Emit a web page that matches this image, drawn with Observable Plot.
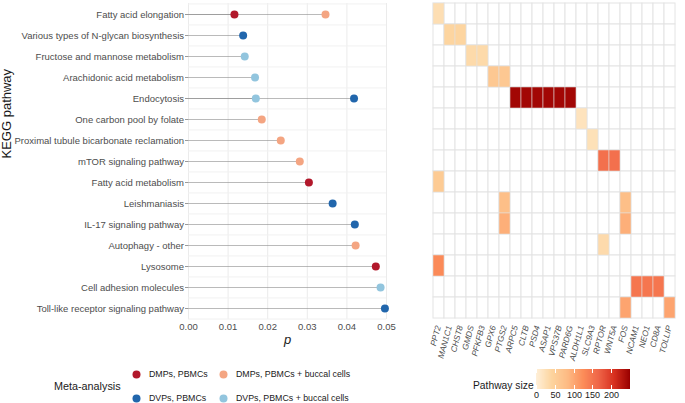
<!DOCTYPE html>
<html><head><meta charset="utf-8">
<script src="https://cdn.jsdelivr.net/npm/d3@7"></script>
<script src="https://cdn.jsdelivr.net/npm/@observablehq/plot@0.6"></script>
<style>
body{margin:0;background:#fff;}
#root{position:relative;width:685px;height:403px;overflow:hidden;font-family:"Liberation Sans",Arial,sans-serif;background:#fff;}
#root svg{overflow:visible;}
.abs{position:absolute;top:0;left:0;}
.ttl{position:absolute;white-space:nowrap;color:#1a1a1a;line-height:1;}
#ramp .tick line{stroke:#fff;stroke-dasharray:4 12 4;stroke-width:1;}
#left g[aria-label="y-axis tick"] path{stroke:#9a9a9a;}
</style></head><body><div id="root"></div>
<script>
const FONT = '"Liberation Sans", Arial, sans-serif';

// ---- data ----
const pathways = ["Fatty acid elongation","Various types of N-glycan biosynthesis","Fructose and mannose metabolism","Arachidonic acid metabolism","Endocytosis","One carbon pool by folate","Proximal tubule bicarbonate reclamation","mTOR signaling pathway","Fatty acid metabolism","Leishmaniasis","IL-17 signaling pathway","Autophagy - other","Lysosome","Cell adhesion molecules","Toll-like receptor signaling pathway"];
const groups = ["DMPs, PBMCs","DMPs, PBMCs + buccal cells","DVPs, PBMCs","DVPs, PBMCs + buccal cells"];
const groupColors = ["#b2182b","#f4a582","#2166ac","#92c5de"];

const pointPathway = ["Fatty acid elongation","Fatty acid elongation","Various types of N-glycan biosynthesis","Fructose and mannose metabolism","Arachidonic acid metabolism","Endocytosis","Endocytosis","One carbon pool by folate","Proximal tubule bicarbonate reclamation","mTOR signaling pathway","Fatty acid metabolism","Leishmaniasis","IL-17 signaling pathway","Autophagy - other","Lysosome","Cell adhesion molecules","Toll-like receptor signaling pathway"];
const pointGroup = ["DMPs, PBMCs","DMPs, PBMCs + buccal cells","DVPs, PBMCs","DVPs, PBMCs + buccal cells","DVPs, PBMCs + buccal cells","DVPs, PBMCs + buccal cells","DVPs, PBMCs","DMPs, PBMCs + buccal cells","DMPs, PBMCs + buccal cells","DMPs, PBMCs + buccal cells","DMPs, PBMCs","DVPs, PBMCs","DVPs, PBMCs","DMPs, PBMCs + buccal cells","DMPs, PBMCs","DVPs, PBMCs + buccal cells","DVPs, PBMCs"];
const pointP = [0.0116,0.0346,0.0138,0.0142,0.0168,0.0170,0.0418,0.0185,0.0233,0.0281,0.0304,0.0364,0.0420,0.0422,0.0473,0.0485,0.0496];
const xTicks = [0,0.01,0.02,0.03,0.04,0.05];

const genes = ["PPT2","MAN1C1","CHST8","GMDS","PFKFB3","GPX6","PTGS2","ARPC5","CLTB","PSD4","ASAP1","VPS37B","PARD6G","ALDH1L1","SLC9A3","RPTOR","WNT5A","FOS","NCAM1","NEO1","CD8A","TOLLIP"];
const pathwaySize = [27,40,33,61,244,20,23,155,57,77,94,32,128,149,104];
const pathwayGenes = [["PPT2"],["MAN1C1","CHST8"],["GMDS","PFKFB3"],["GPX6","PTGS2"],["ARPC5","CLTB","PSD4","ASAP1","VPS37B","PARD6G"],["ALDH1L1"],["SLC9A3"],["RPTOR","WNT5A"],["PPT2"],["PTGS2","FOS"],["PTGS2","FOS"],["RPTOR"],["PPT2"],["NCAM1","NEO1","CD8A"],["FOS","TOLLIP"]];
const sizeTicks = [0,50,100,150,200];
const orrd7 = ["#fef0d9","#fdd49e","#fdbb84","#fc8d59","#ef6548","#d7301f","#990000"];

// ---- build tables ----
const points = pointP.map((p,i)=>({pathway: pointPathway[i], group: pointGroup[i], p}));
const allCells = pathways.flatMap(pw => genes.map(g => ({pathway: pw, gene: g})));
const memberCells = pathways.flatMap((pw,i) => pathwayGenes[i].map(g => ({pathway: pw, gene: g, size: pathwaySize[i]})));
const colorScale = {type: "linear", domain: [0, 250], interpolate: d3.piecewise(d3.interpolateRgb, orrd7)};

const root = document.getElementById("root");
function place(node, id, left, top){
  const d = document.createElement("div");
  d.className = "abs"; d.id = id; d.style.left = left + "px"; d.style.top = top + "px";
  d.appendChild(node); root.appendChild(d); return d;
}
function label(text, left, top, size, extra){
  const d = document.createElement("div");
  d.className = "ttl"; d.textContent = text;
  d.style.left = left + "px"; d.style.top = top + "px"; d.style.fontSize = size + "px";
  if (extra) Object.assign(d.style, extra);
  root.appendChild(d); return d;
}

// ---- left lollipop ----
const step = (355 - 3 - 36) / pathways.length;
const left = Plot.plot({
  width: 400, height: 355,
  marginLeft: 188, marginRight: 14, marginTop: 3, marginBottom: 36,
  style: {fontFamily: FONT, fontSize: "9.5px", color: "#4d4d4d", background: "transparent", overflow: "visible"},
  x: {domain: [0, 0.05]},
  y: {type: "point", domain: pathways, padding: 0.5},
  color: {domain: groups, range: groupColors},
  marks: [
    Plot.ruleX(xTicks, {stroke: "#ebebeb", strokeWidth: 1}),
    Plot.ruleY(pathways, {y: d => d, dy: -step/2, stroke: "#f1f1f1"}),
    Plot.ruleY(pathways.slice(-1), {y: d => d, dy: step/2, stroke: "#f1f1f1"}),
    Plot.ruleY(points, {y: "pathway", x1: 0, x2: "p", stroke: "#8c8c8c", strokeOpacity: 0.6, strokeWidth: 1}),
    Plot.dot(points, {x: "p", y: "pathway", fill: "group", r: 4}),
    Plot.axisX({ticks: xTicks, tickFormat: d3.format(".2f"), tickSize: 0, tickPadding: 4, label: null, color: "#4d4d4d"}),
    Plot.axisY({tickSize: 3, tickPadding: 1.5, label: null, color: "#4d4d4d"}),
    Plot.text(["p"], {frameAnchor: "bottom", text: d => d, dy: 24, fontSize: 13, fontStyle: "italic", fill: "#1a1a1a"}),
    Plot.text(["KEGG pathway"], {frameAnchor: "left", text: d => d, rotate: -90, dx: -182, dy: -3, fontSize: 13, fill: "#1a1a1a"})
  ]
});
place(left, "left", 0, 0);

// ---- right heatmap ----
const heat = Plot.plot({
  width: 263, height: 360,
  marginLeft: 0, marginRight: 0, marginTop: 1, marginBottom: 40,
  style: {fontFamily: FONT, fontSize: "8px", color: "#4d4d4d", background: "transparent", overflow: "visible"},
  x: {type: "band", domain: genes, padding: 0, axis: null},
  y: {type: "band", domain: pathways, padding: 0, axis: null},
  color: colorScale,
  marks: [
    Plot.cell(allCells, {x: "gene", y: "pathway", fill: "#ffffff", stroke: "#e4e4e4", inset: 0}),
    Plot.cell(memberCells, {x: "gene", y: "pathway", fill: "size", stroke: "#e4e4e4", strokeOpacity: 0.55, inset: 0}),
    Plot.text(genes, {x: d => d, frameAnchor: "bottom", text: d => d, rotate: -75, textAnchor: "end", dx: 2, dy: 6, fontStyle: "italic", fontSize: 8.3, fill: "#4d4d4d"})
  ]
});
place(heat, "heat", 422, 0);

// ---- size legend ----
const ramp = Plot.legend({
  color: colorScale, label: null, width: 94, height: 36,
  marginTop: 0, marginBottom: 16, marginLeft: 0, marginRight: 0,
  tickSize: 0, ticks: sizeTicks,
  style: {fontFamily: FONT, fontSize: "9px", color: "#1a1a1a", background: "transparent", overflow: "visible"}
});
place(ramp, "ramp", 536, 369);
label("Pathway size", 473, 380.5, 10.3);

// ---- group legend ----
const leg = Plot.plot({
  width: 400, height: 43, margin: 0,
  style: {fontFamily: FONT, background: "transparent", overflow: "visible"},
  x: {type: "point", domain: [0, 1], range: [136, 223], padding: 0, axis: null},
  y: {type: "point", domain: [0, 1], range: [13.5, 37.5], padding: 0, axis: null},
  color: {domain: groups, range: groupColors},
  marks: [
    Plot.dot(groups, {x: (d, i) => i % 2, y: (d, i) => Math.floor(i / 2), fill: d => d, r: 4}),
    Plot.text(groups, {x: (d, i) => i % 2, y: (d, i) => Math.floor(i / 2), text: d => d, dx: 12.5, textAnchor: "start", fontSize: 8.8, fill: "#1a1a1a"})
  ]
});
place(leg, "leg", 0, 360);
label("Meta-analysis", 54, 381, 10.8);
</script></body></html>
